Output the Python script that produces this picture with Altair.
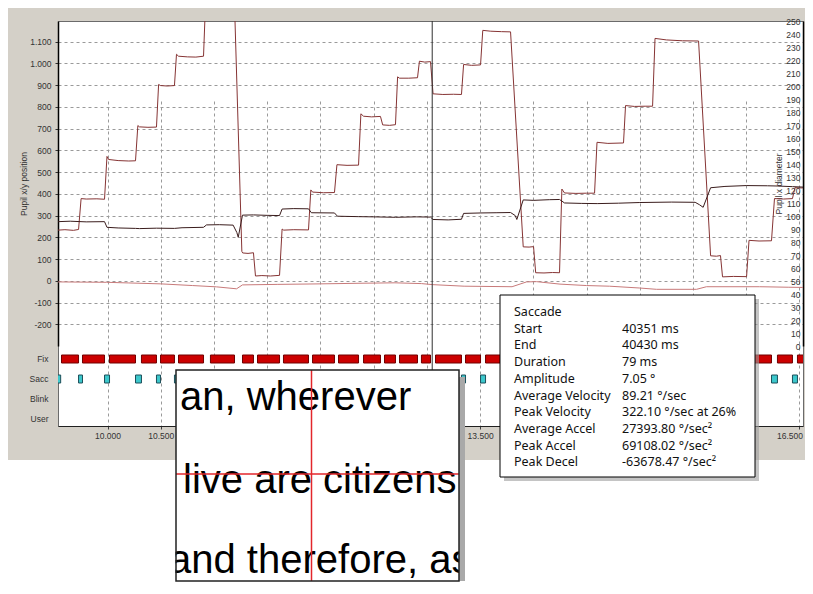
import altair as alt
import pandas as pd

# ---------------- values ----------------
# Pupil X position (left axis), (time ms, value)
x_series = [
    (9535, 233), (9600, 235), (9680, 232), (9728, 236), (9752, 378), (9800, 376), (9900, 377), (9972, 375),
    (9995, 572), (10010, 558), (10100, 553), (10200, 551), (10263, 552),
    (10285, 714), (10300, 708), (10380, 706), (10460, 707),
    (10480, 903), (10498, 898), (10560, 896), (10629, 898),
    (10648, 1042), (10667, 1033), (10750, 1030), (10830, 1029), (10902, 1033),
    (10930, 1400), (11150, 1400), (11190, 1320), (11262, 135), (11270, 128), (11320, 126), (11371, 129),
    (11390, 22), (11450, 24), (11530, 22), (11616, 25),
    (11640, 238), (11655, 233), (11750, 235), (11888, 234),
    (11910, 418), (11926, 408), (12030, 405), (12132, 406),
    (12155, 534), (12250, 531), (12358, 532),
    (12380, 768), (12405, 757), (12480, 754), (12564, 756),
    (12585, 717), (12650, 715), (12705, 718),
    (12725, 938), (12743, 932), (12830, 932), (12912, 934),
    (12930, 1010), (12980, 1006), (13034, 1008),
    (13058, 860), (13150, 857), (13250, 858), (13325, 857),
    (13345, 995), (13420, 991), (13504, 993),
    (13525, 1152), (13600, 1148), (13700, 1146), (13786, 1145),
    (13905, 156), (13960, 155), (14002, 157),
    (14022, 37), (14100, 36), (14180, 38), (14246, 37),
    (14268, 422), (14293, 404), (14400, 402), (14500, 403), (14575, 403),
    (14598, 637), (14700, 632), (14847, 634),
    (14866, 806), (14950, 802), (15050, 803), (15120, 803),
    (15143, 1115), (15250, 1108), (15400, 1104), (15552, 1103),
    (15665, 115), (15720, 113), (15758, 116),
    (15777, 18), (15880, 20), (16003, 19),
    (16026, 186), (16120, 183), (16237, 184),
    (16265, 378), (16350, 376), (16434, 378),
    (16457, 428), (16520, 427), (16580, 429),
]
# Pupil Y position (left axis)
y_series = [
    (9535, 272), (9650, 274), (9800, 271), (9972, 272), (9995, 246), (10100, 243), (10263, 241),
    (10300, 240), (10460, 242), (10629, 241), (10700, 244), (10902, 246), (10930, 257), (11050, 258),
    (11180, 256), (11215, 222), (11228, 200), (11268, 302), (11371, 303), (11500, 301), (11616, 300),
    (11640, 330), (11750, 332), (11888, 331), (11915, 313), (12132, 312), (12160, 297), (12358, 295),
    (12500, 294), (12705, 292), (12900, 294), (13034, 293), (13058, 282), (13200, 280), (13325, 283),
    (13345, 310), (13504, 312), (13650, 313), (13786, 314), (13830, 300), (13845, 282), (13905, 372),
    (14002, 370), (14150, 373), (14246, 374), (14293, 358), (14450, 356), (14600, 355), (14800, 357),
    (15000, 360), (15300, 362), (15520, 361), (15560, 350), (15595, 338), (15665, 428), (15800, 434),
    (16000, 438), (16200, 437), (16290, 436), (16434, 433), (16580, 430),
]
# Pupil diameter (right axis)
diameter_series = [
    (9535, 49.3), (9990, 49.0), (10200, 48.5), (10500, 47.8), (10800, 46.5), (11024, 45.5), (11212, 44.0),
    (11268, 47.0), (11600, 47.4), (12000, 47.8), (12400, 48.3), (12700, 48.6), (12950, 48.0), (13053, 47.2),
    (13350, 46.0), (13800, 45.6), (13936, 49.3), (14030, 49.5), (14250, 47.6), (14500, 46.5), (14715, 46.0),
    (15000, 44.6), (15157, 43.6), (15533, 43.6), (15626, 45.6), (16124, 45.6), (16400, 45.2), (16580, 45.0),
]
fix_start = [9568, 9765, 10019, 10319, 10498, 10667, 10967, 11268, 11409, 11653, 11926, 12170, 12405, 12602, 12743,
             12949, 13081, 13363, 13551, 13917, 14039, 14293, 14622, 14885, 15167, 15674, 15796, 16050, 16293, 16481]
fix_end = [9728, 9972, 10263, 10460, 10629, 10902, 11193, 11371, 11616, 11888, 12132, 12358, 12564, 12705, 12912,
           13034, 13325, 13504, 13786, 14002, 14246, 14575, 14847, 15120, 15552, 15758, 16003, 16237, 16434, 16580]
sacc_start = [9510, 9728, 9972, 10263, 10460, 10629, 10902, 11193, 11371, 11616, 11888, 12132, 12358, 12564, 12705,
              12912, 13034, 13325, 13504, 13786, 14002, 14246, 14575, 14847, 15120, 15552, 15758, 16003, 16237, 16434]
sacc_end = [9560, 9765, 10019, 10319, 10498, 10667, 10967, 11268, 11409, 11653, 11926, 12170, 12405, 12602, 12743,
            12949, 13081, 13363, 13551, 13917, 14039, 14293, 14622, 14885, 15167, 15674, 15796, 16050, 16293, 16481]
rows = ["Fix", "Sacc", "Blink", "User"]
cursor_time = [13050]
left_ticks = list(range(-200, 1101, 100))
right_ticks = list(range(0, 251, 10))
time_ticks = list(range(10000, 16501, 500))
visible_time_labels = [10000, 10500, 13500, 16500]   # the others are hidden behind the two pop-ups
info_labels = ["Saccade", "Start", "End", "Duration", "Amplitude", "Average Velocity",
               "Peak Velocity", "Average Accel", "Peak Accel", "Peak Decel"]
info_values = ["", "40351 ms", "40430 ms", "79 ms", "7.05 °", "89.21 °/sec",
               "322.10 °/sec at 26%", "27393.80 °/sec²", "69108.02 °/sec²", "-63678.47 °/sec²"]
zoom_lines = ["an, wherever", "live are citizens", "and therefore, as"]

# ---------------- layout (pixels relative to the plot area) ----------------
W, H = 745, 405
T_DOMAIN = [9535, 16533]
AX_FONT = "Liberation Sans"
TXT = "#333333"
LBL = "(datum.value < 0 ? '-' : '') + replace(format(abs(datum.value), ',d'), ',', '.')"
XLBL = ("indexof([" + ",".join(str(v) for v in visible_time_labels) + "], datum.value) >= 0 ? "
        "replace(format(datum.value, ',d'), ',', '.') : ''")

pos_df = pd.DataFrame([(t, v, "X") for t, v in x_series] + [(t, v, "Y") for t, v in y_series],
                      columns=["t", "v", "s"])
dia_df = pd.DataFrame(diameter_series, columns=["t", "d"])
fix_df = pd.DataFrame({"start": fix_start, "end": fix_end, "row": ["Fix"] * len(fix_start)})
sacc_df = pd.DataFrame({"start": sacc_start, "end": sacc_end, "row": ["Sacc"] * len(sacc_start)})
cur_df = pd.DataFrame({"t": cursor_time})
one = pd.DataFrame({"k": [0]})

xscale = alt.Scale(domain=T_DOMAIN, nice=False, zero=False)
xaxis = alt.Axis(values=time_ticks, labelExpr=XLBL, grid=True, gridDash=[3, 3], gridColor="#9a9a9a",
                 domainColor="#202020", tickColor="#404040", tickSize=3, labelPadding=2,
                 labelFlush=5, labelFlushOffset=3,
                 labelFont=AX_FONT, labelFontSize=8.5, labelColor=TXT, title=None)

pos_scale = alt.Scale(domain=[-300, 1195], range=[325, 0], nice=False, zero=False)
left_axis = alt.Axis(orient="left", values=left_ticks, labelExpr=LBL, grid=True, gridDash=[3, 3],
                     gridColor="#9a9a9a", tickSize=3, tickColor="#333333", labelPadding=4,
                     domainColor="#000000", domainWidth=1.5, labelFont=AX_FONT, labelFontSize=8.5,
                     labelColor=TXT, labelOverlap=False,
                     title="Pupil x/y position", titleFont=AX_FONT, titleFontSize=8.5, titleFontWeight="normal",
                     titleColor=TXT, titleX=-35, titleY=162.5, titleAngle=270, titleAlign="center",
                     titleBaseline="middle")
dia_scale = alt.Scale(domain=[0, 250], range=[325, 0], nice=False, zero=False)
right_axis = alt.Axis(orient="right", values=right_ticks, grid=False, ticks=False, tickSize=0,
                      labelAlign="right", labelPadding=-3, labelOverlap=False, domainColor="#000000",
                      domainWidth=1.5, labelFont=AX_FONT, labelFontSize=8.5, labelColor=TXT,
                      title="Pupil x diameter", titleFont=AX_FONT, titleFontSize=8.5, titleFontWeight="normal",
                      titleColor=TXT, titleX=-25, titleY=162.5, titleAngle=270, titleAlign="center",
                      titleBaseline="middle")
row_scale = alt.Scale(type="band", domain=rows, range=[328, 408], paddingInner=0.6, paddingOuter=0.3)
row_axis = alt.Axis(orient="left", domain=False, ticks=False, tickSize=0, labelPadding=10, grid=False,
                    labelFont=AX_FONT, labelFontSize=8.5, labelColor=TXT, title=None)

lines = alt.Chart(pos_df).mark_line(clip=True, strokeWidth=1).encode(
    x=alt.X("t:Q", scale=xscale, axis=xaxis),
    y=alt.Y("v:Q", scale=pos_scale, axis=left_axis),
    color=alt.Color("s:N", scale=alt.Scale(domain=["X", "Y"], range=["#863434", "#3a1c1c"]), legend=None),
)
dia = alt.Chart(dia_df).mark_line(clip=True, strokeWidth=1, color="#c87a7a").encode(
    x=alt.X("t:Q", scale=xscale, axis=xaxis),
    y=alt.Y("d:Q", scale=dia_scale, axis=right_axis),
)
fix = alt.Chart(fix_df).mark_rect(clip=True, fill="#cc0000", stroke="#700000", strokeWidth=1).encode(
    x=alt.X("start:Q", scale=xscale, axis=xaxis), x2="end:Q",
    y=alt.Y("row:N", scale=row_scale, axis=row_axis),
)
sacc = alt.Chart(sacc_df).mark_rect(clip=True, fill="#3cc8cc", stroke="#1d4f5a", strokeWidth=1).encode(
    x=alt.X("start:Q", scale=xscale, axis=xaxis), x2="end:Q",
    y=alt.Y("row:N", scale=row_scale, axis=None),
)
cursor = alt.Chart(cur_df).mark_rule(color="#303030", strokeWidth=1).encode(
    x=alt.X("t:Q", scale=xscale, axis=xaxis), y=alt.value(0), y2=alt.value(H),
)


def box(x, x2, y, y2, **kw):
    return alt.Chart(one).mark_rect(**kw).encode(
        x=alt.value(x), x2=alt.value(x2), y=alt.value(y), y2=alt.value(y2))


def rule(x, x2, y, y2, **kw):
    return alt.Chart(one).mark_rule(**kw).encode(
        x=alt.value(x), x2=alt.value(x2), y=alt.value(y), y2=alt.value(y2))


def text(txt, x, y, **kw):
    return alt.Chart(one).mark_text(text=txt, align="left", baseline="alphabetic", **kw).encode(
        x=alt.value(x), y=alt.value(y))


page_white = box(-60, 760, 439, 590, fill="white")

# magnifier inset
inset_x0, inset_x1, inset_y0, inset_y1 = 118, 401, 349, 560
inset_pos = [(122, 389), (125, 472), (111, 552)]
inset_layers = [box(inset_x0, inset_x1, inset_y0, inset_y1, fill="white")]
for line, (lx, ly) in zip(zoom_lines, inset_pos):
    inset_layers.append(text(line, lx, ly, font="Liberation Sans", fontSize=40, color="#000000"))
inset_layers += [
    rule(253.5, 253.5, inset_y0, inset_y1, color="#e3262b", strokeWidth=1.5),
    rule(inset_x0, inset_x1, 453, 453, color="#e3262b", strokeWidth=1.5),
    box(80, inset_x0 - 0.5, 440, 590, fill="white"),
    box(inset_x1 + 0.5, 440, 460, 590, fill="white"),
    box(inset_x1, inset_x1 + 6, inset_y0 + 7, inset_y1, fill="#a9a9a9"),
    box(inset_x0, inset_x1, inset_y0, inset_y1, fillOpacity=0, stroke="#222222", strokeWidth=1.5),
]

# saccade info tooltip
tip_layers = [
    box(697, 701, 278, 460, fill="#9d9d9d", opacity=0.6),
    box(446, 697, 456, 460, fill="#9d9d9d", opacity=0.6),
    box(442, 697, 274, 456, fill="white", stroke="#000000", strokeWidth=1),
    text(info_labels, 456, 295, font="Noto Sans", fontSize=12.5, lineHeight=16.7, color="#111111"),
    text(info_values, 564, 295, font="Noto Sans", fontSize=12.5, lineHeight=16.7, color="#111111"),
]

chart = alt.layer(
    lines, dia, fix, sacc, cursor, page_white, *inset_layers, *tip_layers
).resolve_scale(y="independent").properties(
    width=W, height=H,
    autosize=alt.AutoSizeParams(type="none"),
    padding={"left": 50, "top": 13, "right": 2, "bottom": 156},
    background="#d4d0c8",
).configure_view(fill="white", stroke="#6b6b6b", strokeWidth=1)

chart.save("out.html", embed_options={"renderer": "svg", "actions": False})
